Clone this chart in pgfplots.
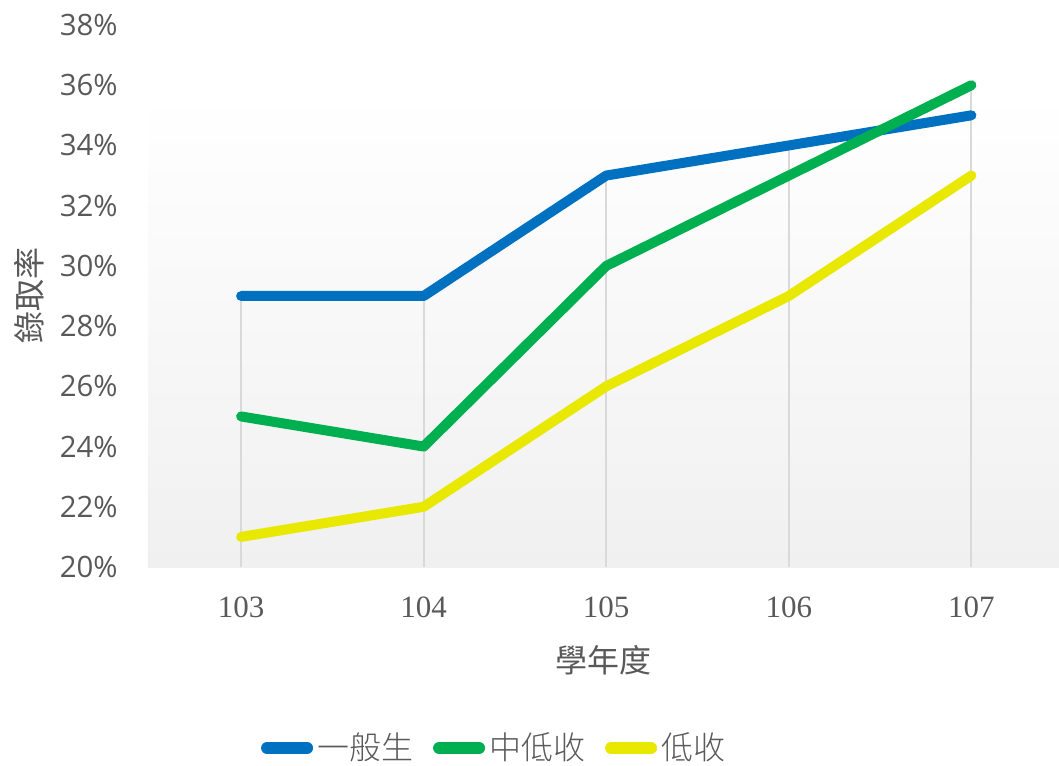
\documentclass[border=0pt]{standalone}
\usepackage{fontspec}
\usepackage{pgfplots}
\pgfplotsset{compat=1.18}
\setmainfont{Liberation Serif}
\newfontfamily\cjk{Noto Sans CJK TC}
\newfontfamily\cjklight{Noto Sans CJK TC Light}
\newfontfamily\tickfont{Open Sans}
\definecolor{cblue}{HTML}{0070C0}
\definecolor{cgreen}{HTML}{00B050}
\definecolor{cyellow}{HTML}{E8E800}
\definecolor{txt}{HTML}{595959}
\definecolor{gridc}{HTML}{D9D9D9}
\definecolor{bgb}{HTML}{F0F0F0}
\begin{document}
\begin{tikzpicture}
\path[use as bounding box] (-74pt,-99pt) rectangle (455.5pt,283.5pt);
\begin{axis}[
  scale only axis, width=455.5pt, height=271pt,
  xmin=102.49, xmax=107.48, ymin=20, ymax=38,
  xtick={103,104,105,106,107}, ytick={20,22,...,38},
  /pgf/number format/assume math mode=true,
  axis x line*=bottom, axis y line*=left,
  x axis line style={draw=gridc, line width=1pt},
  y axis line style={draw=none},
  major tick length=0pt, tick style={draw=none},
  xticklabel style={font=\fontsize{15.5}{18}\selectfont, text=txt, anchor=base, yshift=-25pt, inner sep=0pt},
  yticklabel style={font=\tickfont\fontsize{14.7}{17}\selectfont, text=txt, anchor=east, xshift=-15pt, inner sep=0pt},
  yticklabel={\pgfmathprintnumber{\tick}\%},
  xticklabel={\pgfmathprintnumber[int detect]{\tick}},
  xlabel={學年度}, ylabel={錄取率},
  every axis x label/.style={at={(rel axis cs:0.5,0)}, anchor=center, yshift=-46.5pt, font=\cjk\fontsize{16}{19}\selectfont, text=txt},
  every axis y label/.style={at={(rel axis cs:0,0.5)}, anchor=center, xshift=-59.5pt, rotate=90, font=\cjk\fontsize{16}{19}\selectfont, text=txt},
  legend style={at={(rel axis cs:0.381,0)}, anchor=center, yshift=-90.5pt, draw=none, fill=none, font=\cjklight\fontsize{16}{19}\selectfont, text=txt, /tikz/every even column/.append style={column sep=8pt}},
  legend columns=3,
  legend cell align=left,
  legend image code/.code={\draw[#1, line width=6pt, line cap=round] (0pt,0pt) -- (20pt,0pt);},
]
\path[top color=white, bottom color=bgb] (axis cs:102.49,20) rectangle (axis cs:107.48,35.7);
\addplot[gridc, line width=1pt, ycomb, forget plot] coordinates {(103,29)(104,29)(105,33)(106,34)(107,36)};
\addplot[cblue, line width=5pt, line cap=round, line join=round] coordinates {(103,29)(104,29)(105,33)(106,34)(107,35)};
\addlegendentry{一般生}
\addplot[cgreen, line width=5pt, line cap=round, line join=round] coordinates {(103,25)(104,24)(105,30)(106,33)(107,36)};
\addlegendentry{中低收}
\addplot[cyellow, line width=5pt, line cap=round, line join=round] coordinates {(103,21)(104,22)(105,26)(106,29)(107,33)};
\addlegendentry{低收}
\end{axis}
\end{tikzpicture}
\end{document}
